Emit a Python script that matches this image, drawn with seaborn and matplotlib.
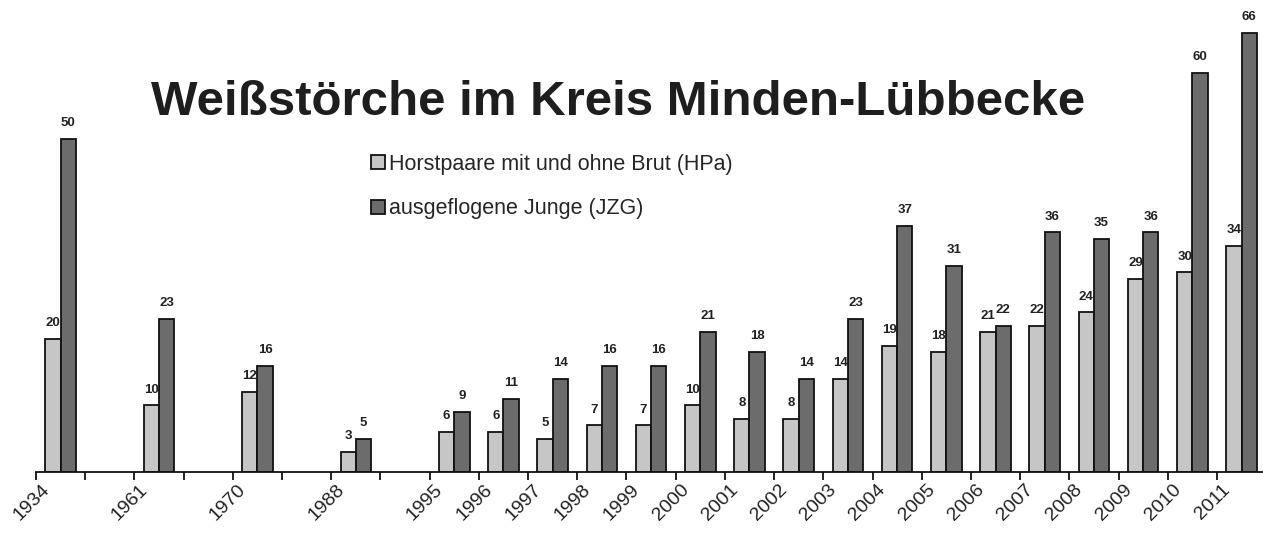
import numpy as np
import pandas as pd

import seaborn as sns
import matplotlib.pyplot as plt
import matplotlib.transforms as mtransforms

# Data
years = ['1934', '1961', '1970', '1988',
         '1995', '1996', '1997', '1998', '1999', '2000', '2001', '2002',
         '2003', '2004', '2005', '2006', '2007', '2008', '2009', '2010', '2011']
hpa = [20, 10, 12, 3, 6, 6, 5, 7, 7, 10, 8, 8, 14, 19, 18, 21, 22, 24, 29, 30, 34]
jzg = [50, 23, 16, 5, 9, 11, 14, 16, 16, 21, 18, 14, 23, 37, 31, 22, 36, 35, 36, 60, 66]
# empty slots on the axis between the early years
slots = ['1934', '_a', '1961', '_b', '1970', '_c', '1988', '_d',
         '1995', '1996', '1997', '1998', '1999', '2000', '2001', '2002',
         '2003', '2004', '2005', '2006', '2007', '2008', '2009', '2010', '2011']
series = ['Horstpaare mit und ohne Brut (HPa)', 'ausgeflogene Junge (JZG)']
colors = {'HPa': '#c6c6c6', 'JZG': '#6c6c6c'}

title = 'Weißstörche im Kreis Minden-Lübbecke'

df = pd.DataFrame({'Jahr': years, series[0]: hpa, series[1]: jzg})
df_melt = pd.melt(df, id_vars='Jahr', value_vars=series, var_name='Serie', value_name='Anzahl')

sns.set_style('white')
plt.rcParams['font.family'] = ['Liberation Sans', 'DejaVu Sans']

fig = plt.figure(figsize=(12.63, 5.33), dpi=100)
ax = fig.add_axes([0.0285, 0.1144, 0.974, 0.8856])

plotting_params = {'data': df_melt,
                   'x': 'Jahr',
                   'y': 'Anzahl',
                   'hue': 'Serie',
                   'order': slots,
                   'hue_order': series,
                   'palette': [colors['HPa'], colors['JZG']],
                   'width': 0.62,
                   'edgecolor': '#111111',
                   'linewidth': 1.3,
                   'saturation': 1,
                   'ax': ax}
sns.barplot(**plotting_params)

# value labels
for cont in ax.containers:
    ax.bar_label(cont, padding=7, fontsize=9.5, fontweight='bold', color='#222222')

ax.set_xlim(-0.5, len(slots) - 0.5)
ax.set_ylim(0, 70.9)
ax.set_xlabel('')
ax.set_ylabel('')
ax.set_yticks([])
for s in ['top', 'right', 'left']:
    ax.spines[s].set_visible(False)
ax.spines['bottom'].set_color('#111111')
ax.spines['bottom'].set_linewidth(1.3)

# labels in slot centres, tick marks on slot borders
ax.set_xticks(np.arange(len(slots)))
ax.set_xticklabels([s if not s.startswith('_') else '' for s in slots],
                   rotation=45, ha='right', va='top', rotation_mode='anchor',
                   fontsize=14, color='#222222')
ax.set_xticks(np.arange(-0.5, len(slots), 1), minor=True)
ax.tick_params(axis='x', which='major', length=0, pad=6)
ax.tick_params(axis='x', which='minor', length=6, width=1.3, color='#111111',
               direction='out', bottom=True)
offset = mtransforms.ScaledTranslation(-20 / 100, -1 / 100, fig.dpi_scale_trans)
for lab in ax.get_xticklabels():
    lab.set_transform(lab.get_transform() + offset)

# legend
handles, labels = ax.get_legend_handles_labels()
ax.legend(handles, labels, loc='upper left', bbox_to_anchor=(360 / 1263, 1 - 143 / 533),
          bbox_transform=fig.transFigure, frameon=False, fontsize=15.5,
          handlelength=0.65, handleheight=0.65, handletextpad=0.2,
          labelspacing=1.1, borderpad=0)

fig.text(618 / 1263, 1 - 102 / 533, title, ha='center', va='center',
         fontsize=35.5, fontweight='bold', color='#1e1e1e')

fig.savefig('out.png', dpi=100, facecolor='white')
plt.close(fig)
